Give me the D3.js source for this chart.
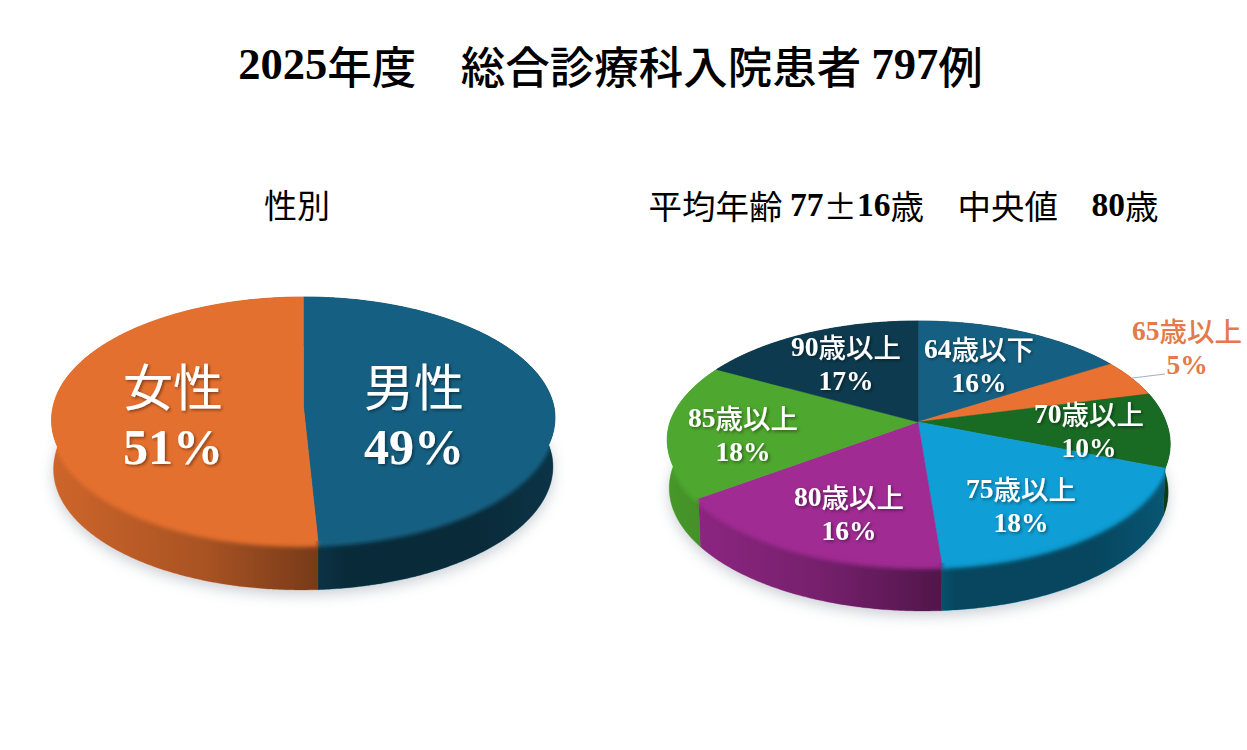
<!DOCTYPE html>
<html lang="ja">
<head>
<meta charset="utf-8">
<title>2025年度 総合診療科入院患者</title>
<script src="https://cdn.jsdelivr.net/npm/d3@7/dist/d3.min.js"></script>
<style>
  html, body { margin: 0; background: #fff; }
  svg { display: block; }
</style>
</head>
<body>
<svg id="chart" width="1247" height="750"></svg>
<script>
// Chart values
const titleText = "2025年度　総合診療科入院患者 797例";
const sexHeading = "性別";
const ageHeading = "平均年齢 77±16歳　中央値　80歳";

const sexCategories = ["男性", "女性"];
const sexValues = [49, 51];
const sexColors = ["#156082", "#E4702F"];

const ageCategories = ["64歳以下", "65歳以上", "70歳以上", "75歳以上", "80歳以上", "85歳以上", "90歳以上"];
const ageValues = [16, 5, 10, 18, 16, 18, 17];
const ageColors = ["#156082", "#E97132", "#196B24", "#0F9ED5", "#A02B93", "#4EA72E", "#0D3A4E"];

// Layout of the two tilted discs and their label anchors
const sexDisc = { id: "sex", cx: 303.5, cy: 407, radiusX: 250.5, radiusY: 120.8, tilt: 0.098, depth: 49, floorScale: 0.992, shear: -0.022, bevel: 6 };
const ageDisc = { id: "age", cx: 918, cy: 422, radiusX: 248, radiusY: 117.7, tilt: 0.165, depth: 48, floorScale: 0.992, shear: 0.035, bevel: 6 };
const sexLabelAnchors = [[414, 385, 448], [173, 385, 448]];
const ageLabelAnchors = [[979, 348, 382], [1187, 330, 364], [1089, 413, 447], [1021, 488, 522], [849, 496, 530], [743, 417, 451], [846, 346, 380]];

const SERIF = "'Liberation Serif', 'Times New Roman', serif";
const GOTHIC = "'Noto Sans CJK JP', 'Noto Sans', sans-serif";

const svg = d3.select("#chart");
const defs = svg.append("defs");

defs.append("filter").attr("id", "floorShadow")
  .attr("x", "-15%").attr("y", "-15%").attr("width", "130%").attr("height", "130%")
  .append("feGaussianBlur").attr("stdDeviation", 7);
defs.append("filter").attr("id", "bevelSoft")
  .attr("x", "-5%").attr("y", "-20%").attr("width", "110%").attr("height", "140%")
  .append("feGaussianBlur").attr("stdDeviation", 2);
const glow = defs.append("filter").attr("id", "labelShadow")
  .attr("x", "-20%").attr("y", "-20%").attr("width", "140%").attr("height", "140%");
glow.append("feDropShadow").attr("dx", 1.5).attr("dy", 1.5).attr("stdDeviation", 1.4)
  .attr("flood-color", "#000").attr("flood-opacity", 0.45);

// Perspective projection of a point on the unit disc, angle clockwise from 12 o'clock.
// The near half leans slightly sideways, following the camera of the 3-D view.
function project(disc, angle, frac = 1) {
  const u = frac * Math.sin(angle);
  const v = frac * Math.cos(angle);
  const w = 1 + disc.tilt * v;
  const y = disc.cy - disc.radiusY * v / w;
  const lean = y > disc.cy ? disc.shear * (y - disc.cy) : 0;
  return [disc.cx + disc.radiusX * u / w + lean, y];
}
function projectFloor(disc, angle) {
  const [x, y] = project(disc, angle);
  return [disc.cx + (x - disc.cx) * disc.floorScale, y + disc.depth];
}
function sweep(a0, a1) {
  const n = Math.max(2, Math.ceil(Math.abs(a1 - a0) / 0.01));
  return d3.range(n + 1).map(i => a0 + (a1 - a0) * i / n);
}
const outline = d3.line();

function drawDisc(disc, values, colors) {
  const arcs = d3.pie().sort(null)(values);
  const g = svg.append("g").attr("class", "disc-" + disc.id);

  // Darkening of the wall, running across the width of the disc
  const gradId = "wall-" + disc.id;
  const grad = defs.append("linearGradient").attr("id", gradId)
    .attr("gradientUnits", "userSpaceOnUse")
    .attr("x1", disc.cx - disc.radiusX).attr("x2", disc.cx + disc.radiusX)
    .attr("y1", 0).attr("y2", 0);
  [[0, 0.10], [0.3, 0.26], [0.55, 0.5], [0.58, 0.56], [0.85, 0.56], [1, 0.46]].forEach(([o, a]) =>
    grad.append("stop").attr("offset", o).attr("stop-color", "#000").attr("stop-opacity", a));

  // Soft shadow on the ground
  const full = sweep(0, 2 * Math.PI);
  g.append("path")
    .attr("d", outline(full.map(a => {
      const [x, y] = projectFloor(disc, a);
      return [x, y + 5];
    })) + "Z")
    .attr("fill", "#8d97a3").attr("opacity", 0.45)
    .attr("filter", "url(#floorShadow)");

  // Outer wall of each slice
  const wallPath = d => {
    const angles = sweep(d.startAngle, d.endAngle);
    return outline(angles.map(a => project(disc, a)).concat(angles.slice().reverse().map(a => projectFloor(disc, a)))) + "Z";
  };
  g.selectAll("path.wall").data(arcs).join("path").attr("class", "wall")
    .attr("d", wallPath).attr("fill", (d, i) => colors[i])
    .attr("stroke", (d, i) => colors[i]).attr("stroke-width", 0.4);
  g.selectAll("path.wallShade").data(arcs).join("path").attr("class", "wallShade")
    .attr("d", wallPath).attr("fill", `url(#${gradId})`);

  // The whole silhouette, used to keep the soft bevel inside the disc
  const clipId = "hull-" + disc.id;
  const clip = defs.append("clipPath").attr("id", clipId);
  clip.append("path").attr("d", outline(full.map(a => project(disc, a))) + "Z");
  clip.selectAll("path.part").data(arcs).join("path").attr("class", "part").attr("d", wallPath);

  // Rounded bevel between wall and top face, along the near half only.
  // It starts well under the face so that its soft edge fades out only on the wall.
  const nearStart = Math.PI * 0.5, nearEnd = Math.PI * 1.5;
  const bevelPath = d => {
    const a0 = Math.max(d.startAngle, nearStart), a1 = Math.min(d.endAngle, nearEnd);
    if (a1 <= a0) return null;
    const rim = sweep(a0, a1).map(a => project(disc, a));
    const upper = rim.map(([x, y]) => [x, y - 8]);
    const lower = rim.slice().reverse().map(([x, y]) => [x, y + disc.bevel]);
    return outline(upper.concat(lower)) + "Z";
  };
  g.append("g").attr("clip-path", `url(#${clipId})`)
    .selectAll("path.bevel").data(arcs).join("path").attr("class", "bevel")
    .attr("d", bevelPath)
    .attr("fill", (d, i) => colors[i])
    .attr("filter", "url(#bevelSoft)");

  // Top face
  g.selectAll("path.face").data(arcs).join("path").attr("class", "face")
    .attr("d", d => outline([[disc.cx, disc.cy]].concat(sweep(d.startAngle, d.endAngle).map(a => project(disc, a)))) + "Z")
    .attr("fill", (d, i) => colors[i])
    .attr("stroke", (d, i) => colors[i]).attr("stroke-width", 0.5);
}

// Writes a string as runs: bold serif for Latin digits, gothic for Japanese
function setRuns(textSel, str, gothicWeight) {
  str.split(/([\x21-\x7E]+)/).filter(s => s.length).forEach(run => {
    const latin = /^[\x21-\x7E]+$/.test(run);
    textSel.append("tspan")
      .attr("font-family", latin ? SERIF : GOTHIC)
      .attr("font-weight", latin ? 700 : gothicWeight)
      .text(run);
  });
}
function label(str, x, y, size, fill, weight, shadow) {
  const t = svg.append("text")
    .attr("x", x).attr("y", y)
    .attr("text-anchor", "middle").attr("dominant-baseline", "central")
    .attr("font-size", size).attr("fill", fill).style("white-space", "pre");
  setRuns(t, str, weight);
  if (shadow) t.attr("filter", "url(#labelShadow)");
  return t;
}

drawDisc(sexDisc, sexValues, sexColors);
drawDisc(ageDisc, ageValues, ageColors);

// Leader line of the small slice
const smallSlice = d3.pie().sort(null)(ageValues)[1];
const leaderStart = project(ageDisc, (smallSlice.startAngle + smallSlice.endAngle) / 2, 1);
svg.append("line")
  .attr("x1", leaderStart[0]).attr("y1", leaderStart[1])
  .attr("x2", 1165).attr("y2", 374)
  .attr("stroke", "#9fb1bd").attr("stroke-width", 1);

// Headings
label(titleText, 610.5, 64, 44.5, "#000", 500, false);
label(sexHeading, 297, 204, 33, "#000", 400, false);
label(ageHeading, 903.5, 204, 33.5, "#000", 400, false);

// Slice labels
sexCategories.forEach((c, i) => {
  const [x, y1, y2] = sexLabelAnchors[i];
  label(c, x, y1 - 1, 50, "#fff", 400, true);
  label(sexValues[i] + "%", x, y2 - 1, 50, "#fff", 400, true);
});
ageCategories.forEach((c, i) => {
  const [x, y1, y2] = ageLabelAnchors[i];
  const fill = i === 1 ? "#E4794A" : "#fff";
  label(c, x, y1, 27.5, fill, 500, i !== 1);
  label(ageValues[i] + "%", x, y2, 27.5, fill, 500, i !== 1);
});
</script>
</body>
</html>
